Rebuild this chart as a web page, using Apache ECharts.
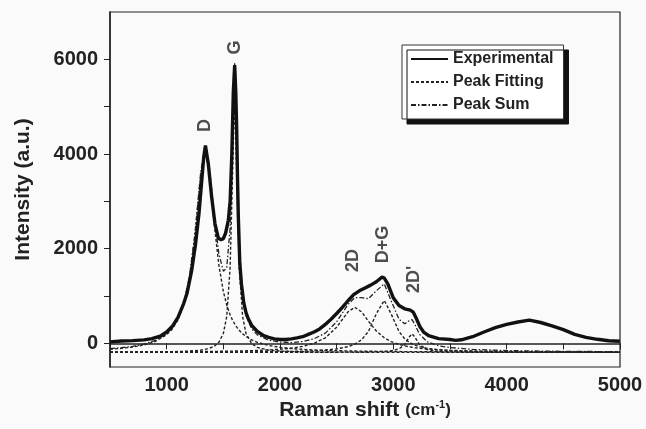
<!DOCTYPE html>
<html>
<head>
<meta charset="utf-8">
<script src="https://cdn.jsdelivr.net/npm/echarts@6/dist/echarts.min.js"></script>
<style>
  html, body { margin: 0; padding: 0; background: #fafafa; }
  #main { width: 646px; height: 429px; }
</style>
</head>
<body>
<div id="main"></div>
<script>
// experimental spectrum
var expX = [500,600,700,800,870,950,1000,1050,1100,1150,1180,1220,1255,1285,1310,1327,1342,1367,1397,1426,1456,1480,1500,1520,1544,1560,1575,1588,1600,1610,1618,1625,1632,1645,1660,1680,1700,1720,1750,1800,1850,1900,1950,2000,2050,2100,2150,2200,2250,2300,2350,2400,2450,2500,2550,2600,2650,2700,2750,2800,2850,2880,2900,2920,2950,3000,3050,3100,3150,3175,3200,3235,3270,3310,3400,3500,3550,3600,3700,3800,3900,4000,4100,4200,4300,4400,4500,4600,4700,4800,4900,5000];
var expY = [30,48,58,72,100,160,240,360,550,840,1060,1530,2100,2740,3450,3930,4180,3800,3090,2530,2220,2190,2210,2330,2600,3000,4000,5300,5880,5300,4500,3500,2700,1700,1250,860,650,520,380,250,170,125,95,80,82,95,115,140,190,240,305,400,510,630,760,900,1030,1110,1170,1230,1300,1360,1400,1380,1260,960,800,730,700,660,540,350,230,165,100,80,63,75,140,240,330,400,450,490,440,370,290,190,125,85,55,45];

// fitted peaks, shared x grid
var fitX = [500,600,700,800,900,1000,1050,1100,1150,1200,1250,1300,1340,1380,1420,1460,1500,1530,1560,1580,1600,1620,1640,1670,1700,1750,1800,1900,2000,2100,2200,2300,2400,2500,2600,2660,2720,2780,2850,2920,2980,3050,3100,3140,3165,3190,3230,3300,3400,3500,3700,4000,4500,5000];
var peakD = [-124,-106,-78,-34,40,181,305,496,810,1346,2271,3539,4080,3539,2513,1662,1096,810,602,496,409,337,276,202,145,73,21,-45,-85,-110,-127,-140,-149,-155,-161,-163,-165,-167,-169,-171,-172,-174,-175,-175,-176,-176,-177,-178,-179,-180,-182,-184,-186,-187];
var peakG = [-186,-186,-185,-183,-181,-178,-176,-173,-169,-163,-155,-143,-127,-103,-61,20,208,565,1609,3433,5280,3433,1609,565,208,-6,-85,-143,-163,-173,-178,-181,-183,-185,-186,-187,-187,-187,-187,-188,-188,-188,-188,-188,-188,-188,-188,-188,-189,-189,-189,-189,-189,-189];
var peak2D = [-183,-183,-182,-181,-180,-179,-178,-178,-177,-176,-175,-174,-173,-172,-170,-169,-168,-167,-165,-164,-163,-162,-161,-160,-158,-154,-150,-139,-124,-101,-64,0,117,341,665,760,665,468,260,117,38,-23,-54,-73,-83,-92,-104,-120,-137,-148,-162,-173,-181,-184];
var peakDG = [-188,-188,-188,-187,-187,-186,-186,-186,-185,-185,-185,-184,-184,-184,-183,-183,-183,-183,-182,-182,-182,-182,-181,-181,-181,-180,-179,-177,-174,-170,-165,-156,-142,-118,-70,-17,76,249,625,907,625,249,97,22,-12,-38,-70,-107,-136,-152,-169,-179,-185,-187];
var peak2Dp = [-190,-190,-190,-190,-190,-190,-190,-190,-190,-190,-190,-190,-190,-190,-190,-190,-190,-190,-190,-190,-189,-189,-189,-189,-189,-189,-189,-189,-189,-189,-189,-188,-188,-187,-186,-185,-184,-182,-179,-171,-158,-117,-28,133,200,133,-28,-134,-170,-180,-186,-188,-189,-189];
var peakSum = [-111,-93,-63,-15,62,208,335,529,849,1393,2327,3609,4167,3651,2670,1901,1524,1596,2435,4154,5915,3997,2114,997,585,304,178,67,25,17,37,95,215,456,822,968,965,941,1111,1254,905,507,412,479,501,399,193,33,-51,-89,-128,-153,-170,-176];

// peak labels
var peakNames = ['D', 'G', '2D', 'D+G', "2D'"];
var peakLabelX = [1338, 1603, 2644, 2909, 3182];
var peakLabelY = [4600, 6250, 1750, 2090, 1350];

var yTickValues = [0, 1000, 2000, 3000, 4000, 5000, 6000];
var yLabelValues = [0, 2000, 4000, 6000];

function pairs(xs, ys) {
    return xs.map(function (x, i) { return [x, ys[i]]; });
}

var chart = echarts.init(document.getElementById('main'));
var ink = '#222';
var fitStyle = { color: ink, width: 1.4, type: [3, 2] };

function lineSeries(name, xs, ys, style) {
    return {
        name: name, type: 'line', symbol: 'none', showSymbol: false,
        data: pairs(xs, ys), lineStyle: style, itemStyle: { color: ink }
    };
}

var option = {
    animation: false,
    backgroundColor: '#fafafa',
    textStyle: { fontFamily: 'Liberation Sans, Arial, sans-serif' },
    grid: {
        left: 110, right: 26, top: 12, bottom: 62,
        show: true, borderColor: '#222', borderWidth: 1.2
    },
    legend: {
        data: ['Experimental', 'Peak Fitting', 'Peak Sum'],
        orient: 'vertical',
        left: 402, top: 45,
        padding: [6, 10, 6, 8],
        itemWidth: 37, itemHeight: 12, itemGap: 7,
        itemStyle: { opacity: 0 },
        backgroundColor: '#fff',
        borderColor: '#333', borderWidth: 1, borderRadius: 0,
        shadowColor: '#111', shadowBlur: 0, shadowOffsetX: 5, shadowOffsetY: 5,
        textStyle: { color: ink, fontSize: 16, fontWeight: 'bold' }
    },
    xAxis: {
        type: 'value', min: 500, max: 5000, interval: 500,
        name: 'Raman shift {s|(cm}{sup|-1}{s|)}',
        nameLocation: 'middle', nameGap: 30,
        nameTextStyle: {
            color: ink, fontSize: 21, fontWeight: 'bold',
            rich: {
                s: { fontSize: 17, fontWeight: 'bold', color: ink },
                sup: { fontSize: 11, fontWeight: 'bold', color: ink, verticalAlign: 'top', padding: [0, 0, 10, 0] }
            }
        },
        axisLine: { lineStyle: { color: '#222', width: 1.5 } },
        axisTick: { inside: false, length: 6, lineStyle: { color: '#222' } },
        axisLabel: {
            color: ink, fontSize: 20, fontWeight: 'bold', margin: 8,
            formatter: function (v) { return v % 1000 === 0 ? String(v) : ''; }
        },
        splitLine: { show: false }
    },
    yAxis: {
        type: 'value', min: -500, max: 7000,
        name: 'Intensity (a.u.)',
        nameLocation: 'middle', nameGap: 76,
        nameTextStyle: { color: ink, fontSize: 21, fontWeight: 'bold' },
        axisLine: { show: true, lineStyle: { color: '#222', width: 1.5 } },
        axisTick: { show: true, inside: false, length: 6, customValues: yTickValues, lineStyle: { color: '#222' } },
        axisLabel: {
            color: ink, fontSize: 20, fontWeight: 'bold', margin: 12, customValues: yLabelValues,
            formatter: function (v) { return String(v); }
        },
        splitLine: { show: false }
    },
    series: [
        lineSeries('Peak Fitting', fitX, peakD, fitStyle),
        lineSeries('Peak Fitting', fitX, peakG, fitStyle),
        lineSeries('Peak Fitting', fitX, peak2D, fitStyle),
        lineSeries('Peak Fitting', fitX, peakDG, fitStyle),
        lineSeries('Peak Fitting', fitX, peak2Dp, fitStyle),
        lineSeries('Peak Sum', fitX, peakSum, { color: ink, width: 1.3, type: [5, 2, 1.5, 2] }),
        Object.assign(lineSeries('Experimental', expX, expY, { color: '#111', width: 3.4 }), { z: 5 }),
        {
            name: 'labels', type: 'scatter', symbolSize: 0,
            data: peakNames.map(function (n, i) { return [peakLabelX[i], peakLabelY[i], n]; }),
            label: {
                show: true, position: 'inside', rotate: 90,
                color: ink, fontSize: 18, fontWeight: 'bold',
                formatter: function (p) { return p.data[2]; }
            },
            silent: true
        }
    ]
};
chart.setOption(option);
</script>
</body>
</html>
